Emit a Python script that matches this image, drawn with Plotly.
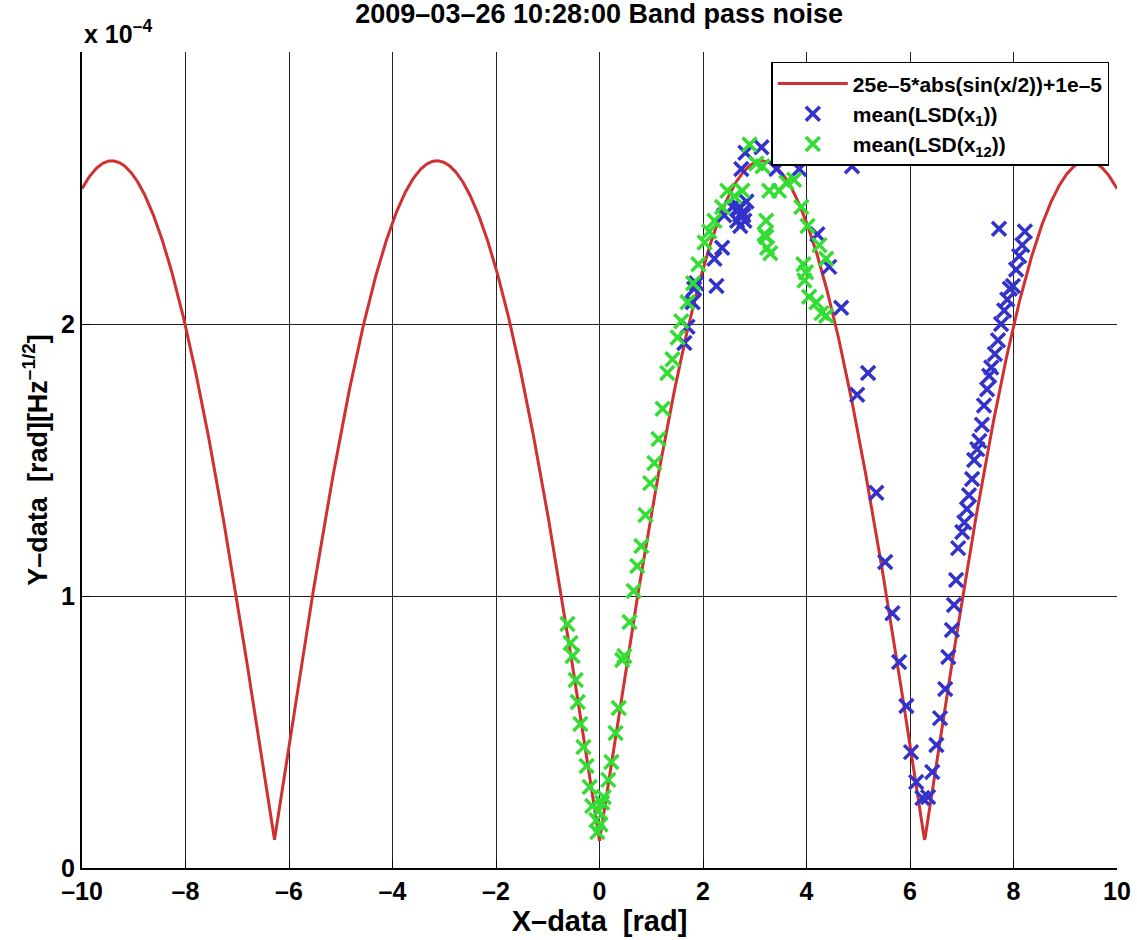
import numpy as np
import plotly.graph_objects as go

# ---- data ----
curve_label = "25e–5*abs(sin(x/2))+1e–5"
curve_amp = 25e-5
curve_off = 1e-5
curve_x = np.linspace(-10, 10, 2001)
curve_y = curve_amp * np.abs(np.sin(curve_x / 2)) + curve_off

# mean(LSD(x1)) - blue crosses (y in units of 1e-4)
x1_x = [1.64, 1.70, 1.80, 1.83, 1.87, 2.26, 2.22, 2.37, 2.41, 2.57, 2.70, 2.76, 2.80, 2.84,
        2.66, 2.74, 2.82, 3.13, 3.42, 3.86, 4.21, 4.44, 4.67, 4.88, 4.98, 5.19, 5.35,
        5.52, 5.66, 5.79, 5.93, 6.02, 6.12, 6.24, 6.35, 6.43, 6.51, 6.58, 6.68, 6.74,
        6.81, 6.85, 6.89, 6.93, 7.01, 7.05, 7.10, 7.14, 7.20, 7.24, 7.30, 7.34, 7.39,
        7.43, 7.49, 7.53, 7.57, 7.64, 7.70, 7.72, 7.76, 7.82, 7.88, 7.93, 7.99, 8.05,
        8.11, 8.17, 8.22, 2.72, 2.78, 2.68]
x1_y = [1.93, 1.99, 2.08, 2.13, 2.15, 2.14, 2.24, 2.28, 2.40, 2.43, 2.43, 2.41, 2.38, 2.45,
        2.38, 2.57, 2.63, 2.65, 2.57, 2.57, 2.33, 2.21, 2.06, 2.58, 1.74, 1.82, 1.38,
        1.125, 0.937, 0.757, 0.596, 0.426, 0.316, 0.257, 0.261, 0.353, 0.452, 0.551, 0.658, 0.776,
        0.875, 0.967, 1.059, 1.176, 1.235, 1.27, 1.32, 1.37, 1.43, 1.50, 1.54, 1.57, 1.63,
        1.70, 1.76, 1.81, 1.84, 1.89, 1.94, 2.35, 2.00, 2.05, 2.09, 2.13, 2.14, 2.20,
        2.25, 2.29, 2.34, 2.36, 2.40, 2.42]

# mean(LSD(x12)) - green crosses (y in units of 1e-4)
x12_x = [-0.62, -0.56, -0.52, -0.46, -0.42, -0.37, -0.31, -0.25, -0.19, -0.14, -0.06, -0.04,
         0.08, 0.17, 0.23, 0.31, 0.37, 0.44, 0.48, 0.58, 0.66, 0.73, 0.81, 0.89, 0.98,
         1.06, 1.14, 1.22, 1.31, 1.41, 1.51, 1.58, 1.70, 1.81, 1.91, 2.03, 2.12, 2.22,
         2.37, 2.47, 2.61, 2.76, 2.90, 3.03, 3.15, 3.22, 3.19, 3.22, 3.24, 3.30, 3.28,
         3.47, 3.61, 3.76, 3.90, 4.02, 3.94, 3.99, 3.96, 4.05, 4.19, 4.29, 4.38, 4.25, 4.38,
         0.02, -0.02, 0.05]
x12_y = [0.897, 0.827, 0.779, 0.691, 0.610, 0.529, 0.445, 0.375, 0.298, 0.228, 0.176, 0.132,
         0.261, 0.324, 0.390, 0.496, 0.588, 0.765, 0.779, 0.904, 1.018, 1.110, 1.184, 1.298, 1.415,
         1.489, 1.577, 1.688, 1.82, 1.87, 1.95, 2.01, 2.08, 2.15, 2.22, 2.30, 2.34, 2.38,
         2.43, 2.49, 2.47, 2.49, 2.66, 2.59, 2.58, 2.38, 2.33, 2.32, 2.28, 2.26, 2.49,
         2.49, 2.52, 2.53, 2.43, 2.36, 2.22, 2.19, 2.16, 2.10, 2.08, 2.04, 2.03, 2.29, 2.24,
         0.16, 0.21, 0.24]

x_ticks = [-10, -8, -6, -4, -2, 0, 2, 4, 6, 8, 10]
x_ticktext = ["–10", "–8", "–6", "–4", "–2", "0", "2", "4", "6", "8", "10"]
y_ticks = [0, 1e-4, 2e-4]
y_ticktext = ["0", "1", "2"]
scale = 1e-4

FONT = "Liberation Sans, Arial, Helvetica, sans-serif"
SP = "\u00a0\u00a0"

fig = go.Figure()
fig.add_trace(go.Scatter(x=curve_x, y=curve_y, mode="lines", name="<b>" + curve_label + "</b>",
                         line=dict(color="#d03030", width=3)))
fig.add_trace(go.Scatter(x=x1_x, y=[v * scale for v in x1_y], mode="markers",
                         name="<b>mean(LSD(x<sub>1</sub>))</b>",
                         marker=dict(symbol="x-thin", size=14,
                                     line=dict(color="#3333cc", width=3.5), color="#3333cc")))
fig.add_trace(go.Scatter(x=x12_x, y=[v * scale for v in x12_y], mode="markers",
                         name="<b>mean(LSD(x<sub>12</sub>))</b>",
                         marker=dict(symbol="x-thin", size=14,
                                     line=dict(color="#33dd33", width=3.5), color="#33dd33")))

fig.update_layout(
    width=1137, height=940,
    margin=dict(l=82, r=20, t=52, b=72, autoexpand=False),
    paper_bgcolor="white", plot_bgcolor="white",
    font=dict(family=FONT, color="black"),
    title=dict(text="<b>2009–03–26 10:28:00 Band pass noise</b>", x=0.527, xanchor="center",
               y=0.986, yanchor="middle", font=dict(size=27)),
    showlegend=True,
    legend=dict(x=0.666, y=0.988, xanchor="left", yanchor="top",
                bgcolor="white", bordercolor="black", borderwidth=1.5,
                font=dict(size=21, family=FONT), tracegroupgap=0, itemwidth=70),
    xaxis=dict(range=[-10, 10], tickvals=x_ticks, ticktext=["<b>" + t + "</b>" for t in x_ticktext],
               showgrid=True, gridcolor="#222222", gridwidth=1,
               showline=True, linecolor="black", linewidth=2, automargin=False,
               ticks="inside", ticklen=8, tickcolor="black",
               tickfont=dict(size=25, family=FONT), zeroline=False,
               title=dict(text="<b>X–data" + SP + "[rad]</b>", font=dict(size=29), standoff=0)),
    yaxis=dict(range=[0, 3.0e-4], tickvals=y_ticks, ticktext=["<b>" + t + "</b>" for t in y_ticktext],
               showgrid=True, gridcolor="#222222", gridwidth=1,
               showline=True, linecolor="black", linewidth=2, automargin=False,
               ticks="inside", ticklen=8, tickcolor="black",
               tickfont=dict(size=25, family=FONT), zeroline=False,
               title=dict(text="<b>Y–data" + SP + "[rad][Hz<sup>–1/2</sup>]</b>", font=dict(size=27), standoff=6)),
)

fig.add_annotation(text="<b>x 10<sup>–4</sup></b>", xref="paper", yref="paper",
                   x=0.0, y=1.0, xanchor="left", yanchor="bottom", yshift=2,
                   showarrow=False, font=dict(size=25, family=FONT))

fig.write_html("out.html")
